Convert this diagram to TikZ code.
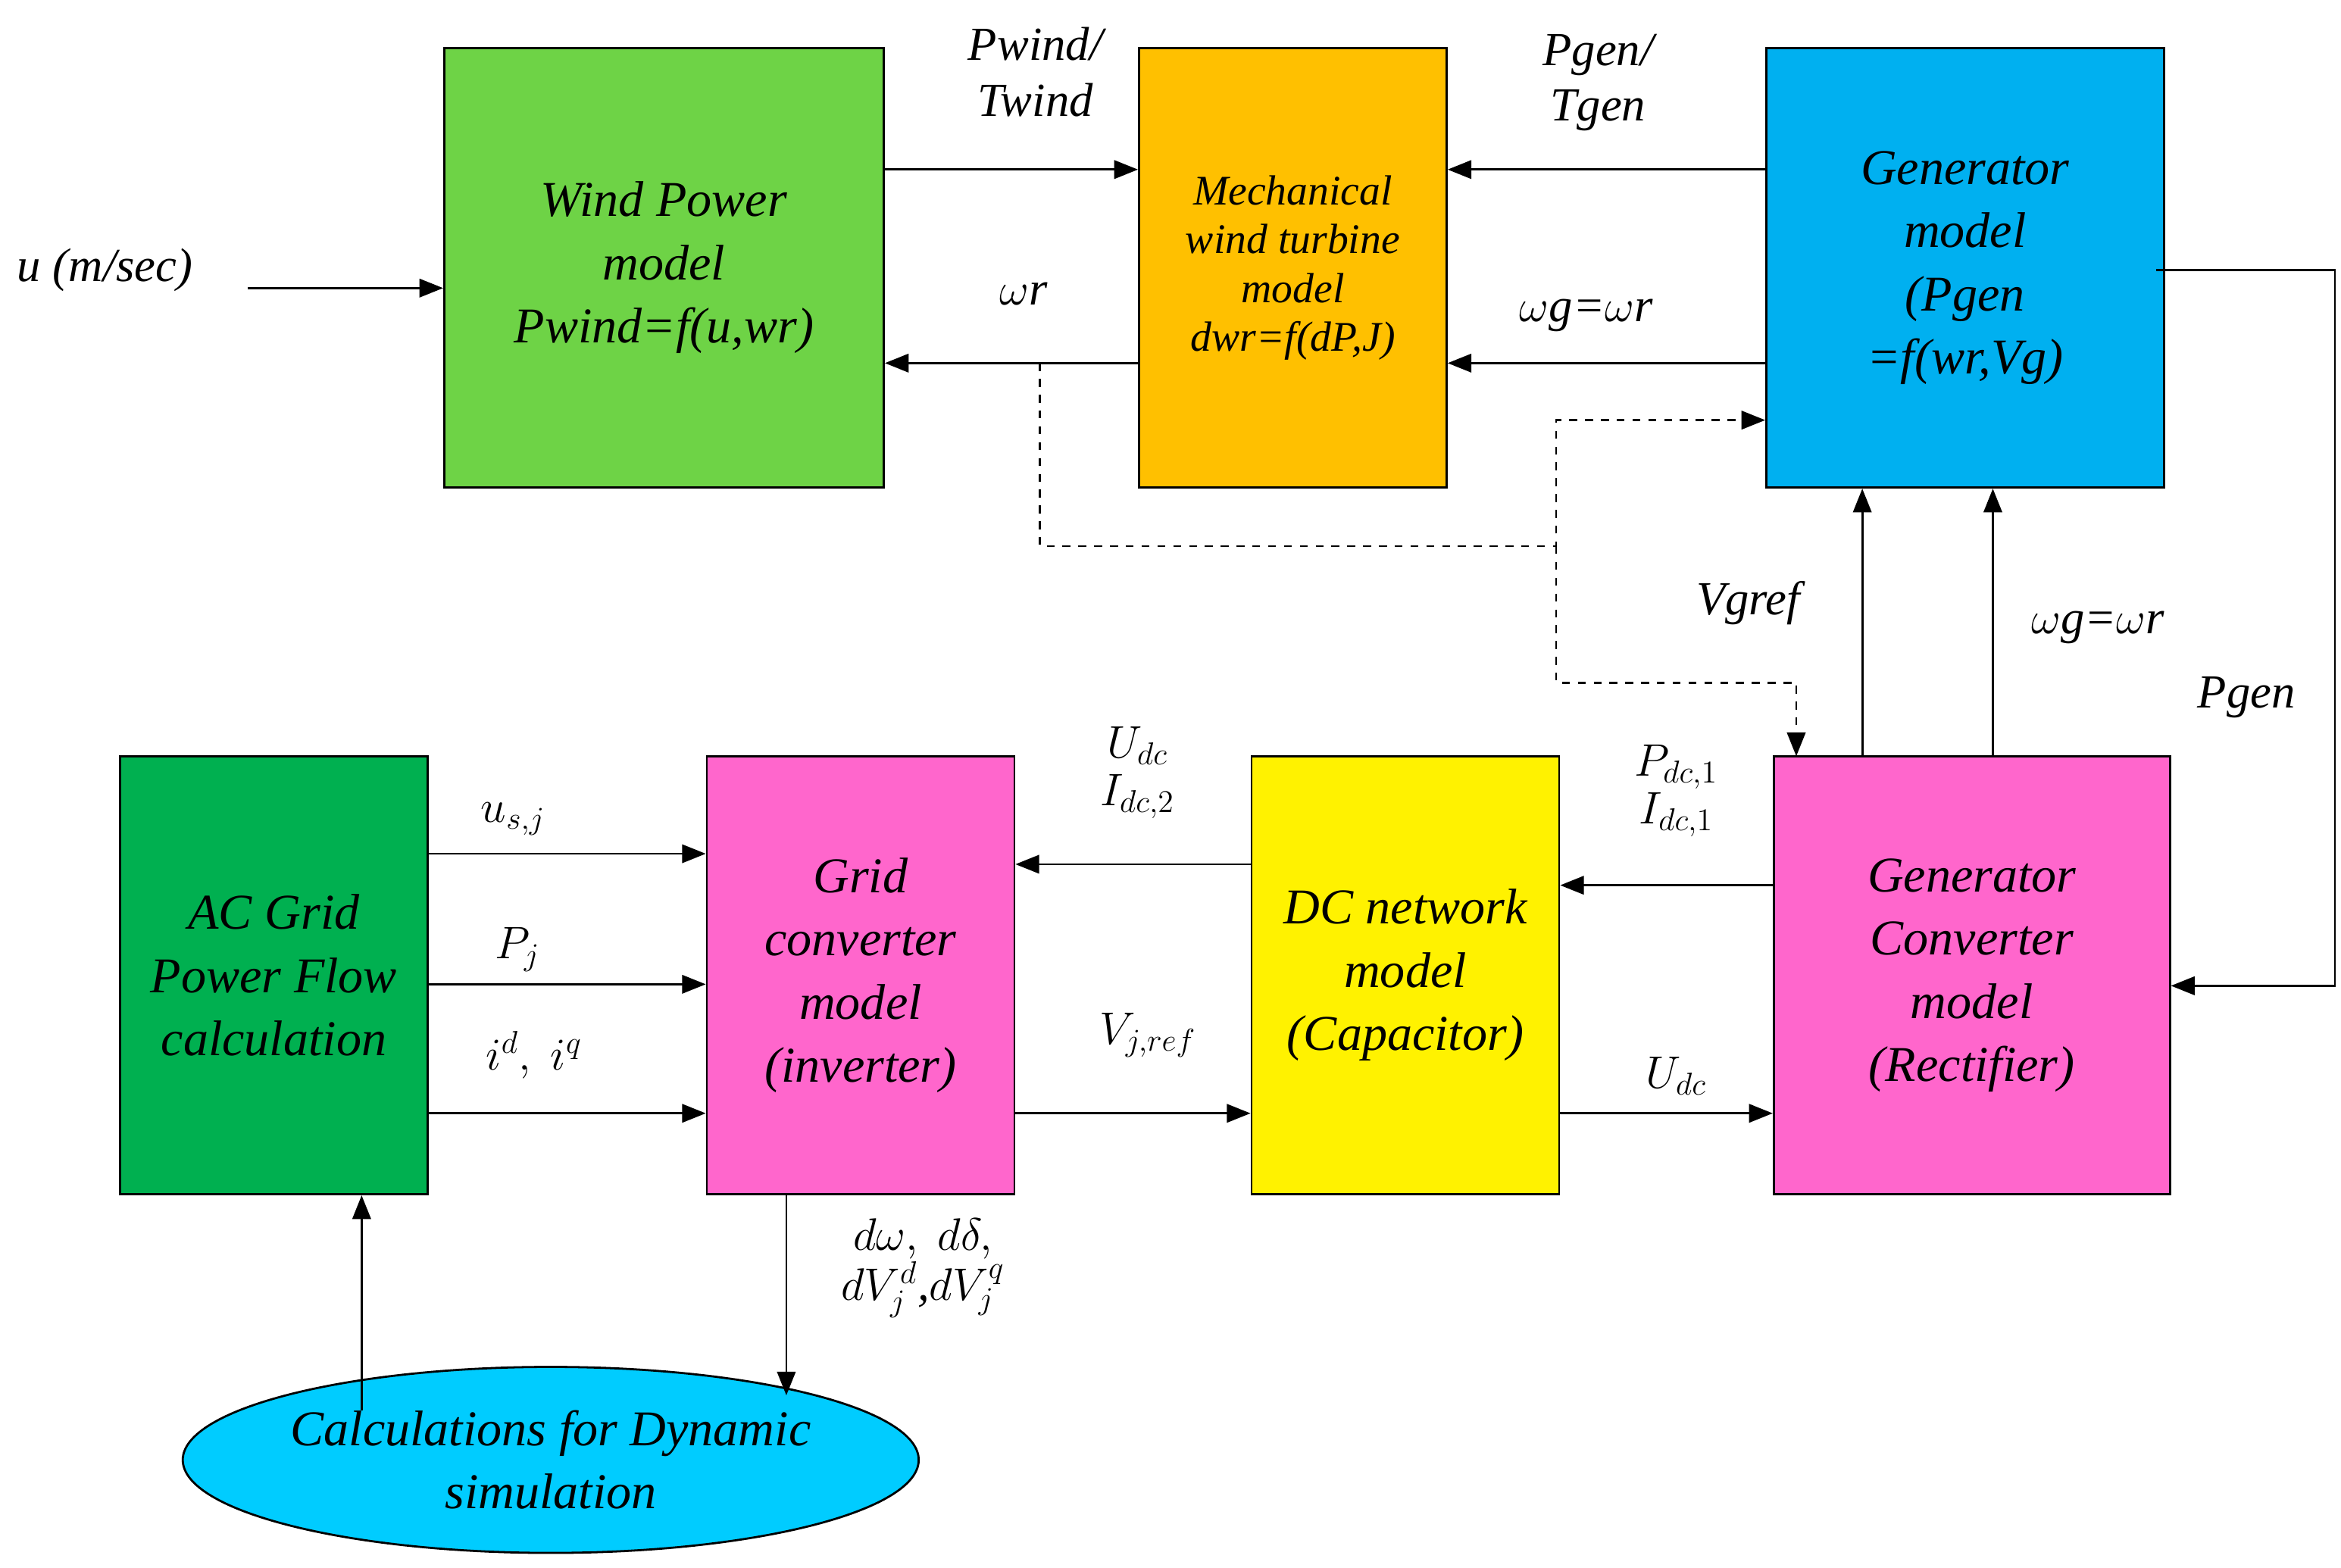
\documentclass[tikz,border=0pt]{standalone}
\usepackage{fontspec}
\setmainfont{Liberation Serif}
\usetikzlibrary{shapes.geometric,arrows.meta}
\begin{document}
\begin{tikzpicture}[x=0.02cm,y=-0.02cm,
 box/.style={draw,line width=0.8pt,align=center,inner sep=0pt,font=\fontsize{19}{24}\selectfont\itshape},
 arr/.style={-{Triangle[length=9pt,width=7pt]},line width=0.8pt},
 lbl/.style={font=\fontsize{18}{21}\selectfont\itshape,align=center}]
\useasboundingbox (0,0) rectangle (1560,1045);
\node[box,fill={rgb,255:red,110;green,211;blue,70},minimum width=5.86cm,minimum height=5.86cm] (w) at (442.5,178.5) {Wind Power\\model\\Pwind=f(u,wr)};
\node[box,fill={rgb,255:red,255;green,192;blue,0},minimum width=4.1cm,minimum height=5.86cm,font=\fontsize{16}{18.5}\selectfont\itshape] (m) at (861.5,178.5) {Mechanical\\wind turbine\\model\\dwr=f(dP,J)};
\node[box,fill={rgb,255:red,0;green,176;blue,240},minimum width=5.3cm,minimum height=5.86cm] (g) at (1309.5,178.5) {Generator\\model\\(Pgen\\=f(wr,Vg)};
\node[box,fill={rgb,255:red,0;green,176;blue,80},minimum width=4.1cm,minimum height=5.84cm] (ac) at (182.5,650) {AC Grid\\Power Flow\\calculation};
\node[box,fill={rgb,255:red,255;green,102;blue,204},minimum width=4.1cm,minimum height=5.84cm] (gc) at (573.5,650) {Grid\\converter\\model\\(inverter)};
\node[box,fill=yellow,minimum width=4.1cm,minimum height=5.84cm] (dc) at (936.5,650) {DC network\\model\\(Capacitor)};
\node[box,fill={rgb,255:red,255;green,102;blue,204},minimum width=5.28cm,minimum height=5.84cm] (gr) at (1314,650) {Generator\\Converter\\model\\(Rectifier)};
\node[box,ellipse,fill={rgb,255:red,0;green,204;blue,255},minimum width=9.2cm,minimum height=2.48cm] (e) at (367,973) {Calculations for Dynamic\\simulation};

\coordinate (u0) at (165,192);
\draw[arr] (u0) -- (w.west |- u0);
\node[lbl] at (70,180) {u (m/sec)};
\draw[arr] (w.east |- 0,113) -- (m.west |- 0,113);
\node[lbl] at (690,48) {Pwind/\\Twind};
\draw[arr] (g.west |- 0,113) -- (m.east |- 0,113);
\node[lbl] at (1065,55) {Pgen/\\Tgen};
\draw[arr] (m.west |- 0,242) -- (w.east |- 0,242);
\node[lbl] at (682,196) {$\omega$r};
\draw[arr] (g.west |- 0,242) -- (m.east |- 0,242);
\node[lbl] at (1057,210) {$\omega$g=$\omega$r};
\draw[arr,dashed] (693,242) -- (693,364) -- (1037,364) -- (1037,280) -- (g.west |- 0,280);
\draw[arr,dashed] (1037,364) -- (1037,455) -- (1197,455) -- (1197,504);
\node[lbl] at (1165,402) {Vgref};
\draw[arr] (gr.north -| 1241,0) -- (g.south -| 1241,0);
\draw[arr] (gr.north -| 1328,0) -- (g.south -| 1328,0);
\node[lbl] at (1398,418) {$\omega$g=$\omega$r};
\draw[arr] (1437,180) -- (1556,180) -- (1556,657) -- (gr.east |- 0,657);
\node[lbl] at (1497,465) {Pgen};
\draw[arr] (ac.east |- 0,569) -- (gc.west |- 0,569);
\draw[arr] (ac.east |- 0,656) -- (gc.west |- 0,656);
\draw[arr] (ac.east |- 0,742) -- (gc.west |- 0,742);
\node[lbl] at (342,546) {$u_{s,j}$};
\node[lbl] at (345,633) {$P_j$};
\node[lbl] at (356,703) {$i^d,\ i^q$};
\draw[arr] (dc.west |- 0,576) -- (gc.east |- 0,576);
\node[lbl] at (758,515) {$U_{dc}$\\[-3pt]$I_{dc,2}$};
\draw[arr] (gc.east |- 0,742) -- (dc.west |- 0,742);
\node[lbl] at (765,690) {$V_{j,ref}$};
\draw[arr] (gr.west |- 0,590) -- (dc.east |- 0,590);
\node[lbl] at (1117,527) {$P_{dc,1}$\\[-3pt]$I_{dc,1}$};
\draw[arr] (dc.east |- 0,742) -- (gr.west |- 0,742);
\node[lbl] at (1117,717) {$U_{dc}$};
\draw[arr] (gc.south -| 524,0) -- (524,930);
\node[lbl] at (615,845) {$d\omega,\ d\delta,$\\[-2pt]$dV_j^d$,$dV_j^q$};
\draw[arr] (241,940) -- (ac.south -| 241,0);
\end{tikzpicture}
\end{document}
